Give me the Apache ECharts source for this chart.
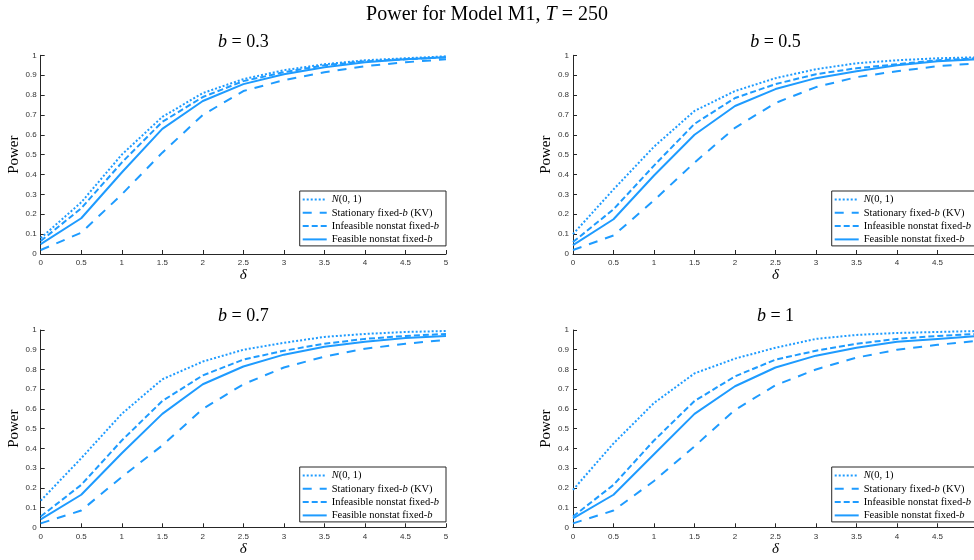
<!DOCTYPE html>
<html><head><meta charset="utf-8">
<script src="https://cdn.jsdelivr.net/npm/echarts@6/dist/echarts.min.js"></script>
<style>html,body{margin:0;padding:0;overflow:hidden;background:#fff}#c{width:990px;height:560px}</style>
</head><body><div id="c"></div>
<script>
// ---- data ----
const deltas = [0, 0.5, 1, 1.5, 2, 2.5, 3, 3.5, 4, 4.5, 5];
const bValues = ['0.3', '0.5', '0.7', '1'];
const seriesNames = ['N(0,1)', 'Stationary fixed-b (KV)', 'Infeasible nonstat fixed-b', 'Feasible nonstat fixed-b'];

const normal_b03 = [0.08, 0.26, 0.50, 0.69, 0.81, 0.88, 0.925, 0.955, 0.975, 0.985, 0.995];
const stat_b03   = [0.02, 0.107, 0.30, 0.51, 0.70, 0.82, 0.875, 0.915, 0.945, 0.965, 0.98];
const infeas_b03 = [0.065, 0.23, 0.46, 0.665, 0.79, 0.87, 0.915, 0.95, 0.97, 0.98, 0.99];
const feas_b03   = [0.05, 0.18, 0.41, 0.63, 0.77, 0.855, 0.905, 0.94, 0.965, 0.98, 0.99];

const normal_b05 = [0.10, 0.325, 0.54, 0.72, 0.82, 0.885, 0.93, 0.96, 0.975, 0.985, 0.99];
const stat_b05   = [0.02, 0.093, 0.27, 0.46, 0.635, 0.76, 0.84, 0.89, 0.92, 0.945, 0.96];
const infeas_b05 = [0.06, 0.225, 0.445, 0.655, 0.785, 0.855, 0.905, 0.935, 0.955, 0.975, 0.985];
const feas_b05   = [0.045, 0.175, 0.395, 0.60, 0.745, 0.83, 0.885, 0.92, 0.95, 0.97, 0.98];

const normal_b07 = [0.135, 0.35, 0.575, 0.75, 0.84, 0.90, 0.935, 0.965, 0.98, 0.99, 0.995];
const stat_b07   = [0.02, 0.085, 0.255, 0.415, 0.60, 0.725, 0.81, 0.865, 0.905, 0.93, 0.95];
const infeas_b07 = [0.055, 0.215, 0.44, 0.64, 0.77, 0.85, 0.895, 0.93, 0.955, 0.97, 0.98];
const feas_b07   = [0.04, 0.165, 0.375, 0.575, 0.725, 0.815, 0.875, 0.915, 0.94, 0.96, 0.97];

const normal_b1 = [0.19, 0.425, 0.63, 0.78, 0.855, 0.91, 0.955, 0.975, 0.985, 0.99, 0.995];
const stat_b1   = [0.02, 0.085, 0.235, 0.41, 0.595, 0.72, 0.80, 0.86, 0.90, 0.925, 0.945];
const infeas_b1 = [0.055, 0.215, 0.44, 0.64, 0.765, 0.85, 0.895, 0.93, 0.955, 0.97, 0.98];
const feas_b1   = [0.045, 0.165, 0.37, 0.575, 0.715, 0.81, 0.87, 0.91, 0.94, 0.955, 0.97];

const panels = [
  [normal_b03, stat_b03, infeas_b03, feas_b03],
  [normal_b05, stat_b05, infeas_b05, feas_b05],
  [normal_b07, stat_b07, infeas_b07, feas_b07],
  [normal_b1, stat_b1, infeas_b1, feas_b1]
];

// ---- styling / layout ----
const COLOR = '#1e9bff';
const SERIF = '"Liberation Serif", "DejaVu Serif", serif';
const SANS = '"Liberation Sans", Arial, sans-serif';
const AX = '#262626';
const lineTypes = [[2, 2], [9, 8], [6, 3], 'solid'];
const grids = [
  {left: 40.7, top: 55.3, width: 405.3, height: 198.7},
  {left: 573, top: 55.3, width: 405, height: 198.7},
  {left: 40.7, top: 330, width: 405.3, height: 197.3},
  {left: 573, top: 330, width: 405, height: 197.3}
];
const legendPos = [
  {right: 990 - 446, top: 191},
  {right: 990 - 978, top: 191},
  {right: 990 - 446, top: 467},
  {right: 990 - 978, top: 467}
];
const titlePos = [
  {x: 243.4, y: 33}, {x: 775.5, y: 33}, {x: 243.4, y: 307}, {x: 775.5, y: 307}
];
const legendFmt = {
  'N(0,1)': '{i|N}(0, 1)',
  'Stationary fixed-b (KV)': 'Stationary fixed-{i|b} (KV)',
  'Infeasible nonstat fixed-b': 'Infeasible nonstat fixed-{i|b}',
  'Feasible nonstat fixed-b': 'Feasible nonstat fixed-{i|b}'
};

const titles = [{
  text: 'Power for Model M1, {i|T} = 250',
  left: 487, top: 5, textAlign: 'center', padding: 0,
  textStyle: {fontFamily: SERIF, fontSize: 20, fontWeight: 'normal', color: '#000',
    rich: {i: {fontFamily: SERIF, fontSize: 20, fontStyle: 'italic', color: '#000'}}}
}];
bValues.forEach((b, i) => {
  titles.push({
    text: '{i|b} = ' + b,
    left: titlePos[i].x, top: titlePos[i].y, textAlign: 'center', padding: 0,
    textStyle: {fontFamily: SERIF, fontSize: 18, fontWeight: 'normal', color: '#000',
      rich: {i: {fontFamily: SERIF, fontSize: 18, fontStyle: 'italic', color: '#000'}}}
  });
});

const xAxes = [], yAxes = [], series = [], legends = [];
grids.forEach((g, i) => {
  xAxes.push({
    type: 'value', gridIndex: i, min: 0, max: 5, interval: 0.5,
    name: 'δ', nameLocation: 'middle', nameGap: 14,
    nameTextStyle: {fontFamily: SERIF, fontSize: 15, fontStyle: 'italic', color: '#000'},
    axisLine: {lineStyle: {color: AX, width: 1}},
    axisTick: {inside: true, length: 4, lineStyle: {color: AX}},
    axisLabel: {fontFamily: SANS, fontSize: 8, color: '#333', margin: 5,
      formatter: v => String(Math.round(v * 10) / 10)},
    splitLine: {show: false}
  });
  yAxes.push({
    type: 'value', gridIndex: i, min: 0, max: 1, interval: 0.1,
    name: 'Power', nameLocation: 'middle', nameGap: 19,
    nameTextStyle: {fontFamily: SERIF, fontSize: 15, color: '#000'},
    axisLine: {show: true, lineStyle: {color: AX, width: 1}},
    axisTick: {show: true, inside: true, length: 4, lineStyle: {color: AX}},
    axisLabel: {fontFamily: SANS, fontSize: 8, color: '#333', margin: 4,
      formatter: v => String(Math.round(v * 10) / 10)},
    splitLine: {show: false}
  });
  panels[i].forEach((vals, k) => {
    series.push({
      type: 'line', name: seriesNames[k], xAxisIndex: i, yAxisIndex: i,
      data: deltas.map((d, j) => [d, vals[j]]),
      symbol: 'none', silent: true, animation: false,
      lineStyle: {color: COLOR, width: 2, type: lineTypes[k]},
      itemStyle: {color: COLOR}
    });
  });
  legends.push({
    orient: 'vertical', right: legendPos[i].right, top: legendPos[i].top,
    data: seriesNames, selectedMode: false,
    itemWidth: 24, itemHeight: 10, itemGap: 2.3,
    padding: [3, 7, 1, 2],
    backgroundColor: '#fff', borderColor: AX, borderWidth: 1, borderRadius: 0,
    itemStyle: {color: 'rgba(0,0,0,0)', borderWidth: 0, opacity: 0},
    formatter: n => legendFmt[n],
    textStyle: {fontFamily: SERIF, fontSize: 10.5, color: '#000',
      rich: {i: {fontFamily: SERIF, fontSize: 10.5, fontStyle: 'italic', color: '#000'}}}
  });
});

const chart = echarts.init(document.getElementById('c'), null, {renderer: 'canvas'});
chart.setOption({
  animation: false,
  backgroundColor: '#fff',
  title: titles,
  grid: grids,
  xAxis: xAxes,
  yAxis: yAxes,
  legend: legends,
  series: series
});
</script></body></html>
